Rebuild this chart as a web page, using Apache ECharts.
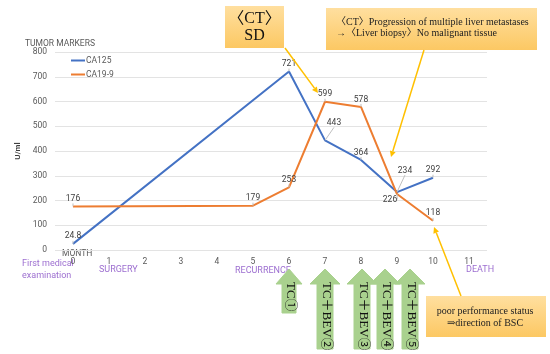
<!DOCTYPE html>
<html><head><meta charset="utf-8">
<script src="https://cdn.jsdelivr.net/npm/echarts@6/dist/echarts.min.js"></script>
<style>html,body{margin:0;padding:0;background:#fff}#c{width:550px;height:354px}</style>
</head><body><div id="c"></div>
<script>
var months = ['0','1','2','3','4','5','6','7','8','9','10','11'];
var ca125 = [24.8, null, null, null, null, null, 721, 443, 364, 234, 292, null];
var ca199 = [176, null, null, null, null, 179, 253, 599, 578, 226, 118, null];
var yTicks = [0, 100, 200, 300, 400, 500, 600, 700, 800];
var events = [
  {text: 'First medical\nexamination', x: 22, y: 270},
  {text: 'SURGERY', x: 99, y: 270},
  {text: 'RECURRENCE', x: 235, y: 271},
  {text: 'DEATH', x: 466, y: 270}
];
var treatments = ['TC①', 'TC＋BEV②', 'TC＋BEV③', 'TC＋BEV④', 'TC＋BEV⑤'];

var chart = echarts.init(document.getElementById('c'));
var serif = "'Liberation Serif','DejaVu Serif','Noto Sans CJK JP',serif";
var purple = '#9d6fd0';

function yArrow(x1, y1, x2, y2) {
  var ang = Math.atan2(y2 - y1, x2 - x1), L = 6, W = 3;
  var bx = x2 - L * Math.cos(ang), by = y2 - L * Math.sin(ang);
  var px = -Math.sin(ang) * W, py = Math.cos(ang) * W;
  return [
    {type: 'line', shape: {x1: x1, y1: y1, x2: bx, y2: by}, style: {stroke: '#ffc000', lineWidth: 1.5}, z: 20},
    {type: 'polygon', shape: {points: [[x2, y2], [bx + px, by + py], [bx - px, by - py]]}, style: {fill: '#ffc000'}, z: 20}
  ];
}
function greenArrow(cx, bottom, txt, hw, sw) {
  var top = 269, hb = 284;
  return [
    {type: 'polygon', shape: {points: [[cx, top], [cx + hw, hb], [cx + sw, hb], [cx + sw, bottom], [cx - sw, bottom], [cx - sw, hb], [cx - hw, hb]]},
     style: {fill: '#a9d18e', stroke: '#a9d18e', lineWidth: 1}, z: 10},
    {type: 'text', x: cx + 1, y: 282, rotation: -Math.PI / 2,
     style: {text: txt, font: '13px ' + serif, fill: '#111', textAlign: 'left', textVerticalAlign: 'middle'}, z: 11}
  ];
}
var boxFill = new echarts.graphic.LinearGradient(0, 0, 0, 1, [{offset: 0, color: '#ffdf9f'}, {offset: 1, color: '#fcc863'}]);

var graphics = [];
graphics.push({type: 'text', x: 25, y: 44, style: {text: 'TUMOR MARKERS', font: '8.5px Roboto, sans-serif', fill: '#595959', textVerticalAlign: 'middle'}});
graphics.push({type: 'text', x: 62, y: 254, style: {text: 'MONTH', font: '8.5px Roboto, sans-serif', fill: '#595959', textVerticalAlign: 'middle'}});
events.forEach(function (e) {
  graphics.push({type: 'text', x: e.x, y: e.y, style: {text: e.text, font: '9px Roboto, sans-serif', fill: purple, lineHeight: 12, textVerticalAlign: 'middle'}});
});
graphics.push({type: 'rect', shape: {x: 225, y: 6, width: 59, height: 42}, style: {fill: boxFill}, z: 15});
graphics.push({type: 'text', x: 254.5, y: 27, style: {text: '〈CT〉\nSD', font: '16px ' + serif, fill: '#111', textAlign: 'center', textVerticalAlign: 'middle', lineHeight: 17}, z: 16});
graphics.push({type: 'rect', shape: {x: 326, y: 8, width: 211, height: 42}, style: {fill: boxFill}, z: 15});
graphics.push({type: 'text', x: 336, y: 28, style: {text: '〈CT〉Progression of multiple liver metastases\n→〈Liver biopsy〉No malignant tissue', font: '10px ' + serif, fill: '#222', textVerticalAlign: 'middle', lineHeight: 11}, z: 16});
graphics.push({type: 'rect', shape: {x: 426, y: 296, width: 120, height: 41}, style: {fill: boxFill}, z: 15});
graphics.push({type: 'text', x: 485, y: 317, style: {text: 'poor performance status\n⇒direction of BSC', font: '10px ' + serif, fill: '#222', textAlign: 'center', textVerticalAlign: 'middle', lineHeight: 12}, z: 16});
graphics = graphics.concat(yArrow(285, 48, 318, 93), yArrow(424, 50, 391, 157), yArrow(461, 296, 434, 227));
var gx = [289, 325, 362, 385, 410], gb = [313, 349, 349, 349, 349];
treatments.forEach(function (t, i) {
  graphics = graphics.concat(greenArrow(gx[i], gb[i], t, i === 0 ? 13 : 15, i === 0 ? 7 : 8));
});

var labelOff = {
  'CA125': {7: [9, -10], 9: [8, -14]},
  'CA19-9': {9: [-7, 13]}
};
function mkSeries(name, data, color) {
  return {
    name: name, type: 'line', data: data, connectNulls: true,
    symbol: 'circle', symbolSize: 0.01, showSymbol: true,
    lineStyle: {color: color, width: 2}, itemStyle: {color: color},
    label: {show: true, position: 'top', distance: 3, fontSize: 8.5, color: '#404040', fontFamily: 'Roboto, sans-serif'},
    labelLine: {show: true, lineStyle: {color: '#bfbfbf', width: 1}},
    labelLayout: function (p) {
      var o = labelOff[name][p.dataIndex];
      return o ? {dx: o[0], dy: o[1]} : {};
    },
    z: 5
  };
}

chart.setOption({
  animation: false,
  grid: {left: 55, right: 63, top: 52, bottom: 104},
  legend: {
    orient: 'vertical', left: 66, top: 51, itemWidth: 14, itemHeight: 2, itemGap: 5,
    icon: 'rect',
    textStyle: {fontSize: 8.5, color: '#595959', fontFamily: 'Roboto, sans-serif', padding: [0, 0, 0, -4]},
    data: ['CA125', 'CA19-9']
  },
  xAxis: {
    type: 'category', data: months, boundaryGap: true,
    axisLine: {show: false}, axisTick: {show: false},
    axisLabel: {fontSize: 8.5, color: '#595959', margin: 7, fontFamily: 'Roboto, sans-serif'}
  },
  yAxis: {
    type: 'value', min: yTicks[0], max: yTicks[yTicks.length - 1], interval: 100,
    name: 'U/ml', nameLocation: 'middle', nameGap: 26, nameRotate: 90,
    nameTextStyle: {fontSize: 8, color: '#404040', fontFamily: 'Roboto, sans-serif', fontWeight: 'bold'},
    axisLine: {show: false}, axisTick: {show: false},
    axisLabel: {fontSize: 8.5, color: '#595959', margin: 8, fontFamily: 'Roboto, sans-serif'},
    splitLine: {lineStyle: {color: '#e3e3e3', width: 1}}
  },
  series: [mkSeries('CA125', ca125, '#4472c4'), mkSeries('CA19-9', ca199, '#ed7d31')],
  graphic: graphics
});
</script></body></html>
